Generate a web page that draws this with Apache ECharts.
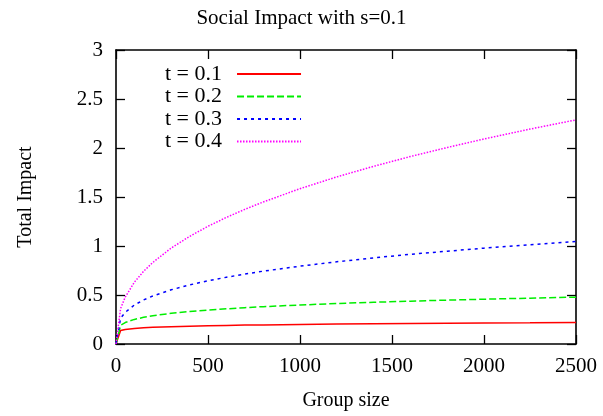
<!DOCTYPE html>
<html><head><meta charset="utf-8">
<script src="https://cdn.jsdelivr.net/npm/echarts@6/dist/echarts.min.js"></script>
<style>html,body{margin:0;padding:0;background:#fff}#c{width:603px;height:416px}</style>
</head><body><div id="c"></div>
<script>
const groupSize = [0, 25, 50, 100, 150, 200, 300, 400, 500, 600, 700, 800, 1000, 1200, 1400, 1600, 1800, 2000, 2250, 2500];
const impactT01 = [0, 0.138, 0.148, 0.158, 0.165, 0.170, 0.177, 0.182, 0.186, 0.190, 0.193, 0.195, 0.200, 0.203, 0.206, 0.209, 0.212, 0.214, 0.216, 0.219];
const impactT02 = [0, 0.190, 0.219, 0.251, 0.272, 0.289, 0.313, 0.331, 0.347, 0.359, 0.371, 0.381, 0.398, 0.413, 0.426, 0.437, 0.448, 0.457, 0.468, 0.478];
const impactT03 = [0, 0.263, 0.323, 0.398, 0.450, 0.490, 0.553, 0.603, 0.645, 0.681, 0.714, 0.743, 0.794, 0.839, 0.879, 0.915, 0.947, 0.978, 1.013, 1.046];
const impactT04 = [0, 0.362, 0.478, 0.631, 0.742, 0.832, 0.979, 1.098, 1.201, 1.292, 1.374, 1.449, 1.585, 1.705, 1.813, 1.913, 2.005, 2.092, 2.193, 2.287];
const seriesNames = ['t = 0.1', 't = 0.2', 't = 0.3', 't = 0.4'];
const xTicks = [0, 500, 1000, 1500, 2000, 2500];
const yTicks = [0, 0.5, 1, 1.5, 2, 2.5, 3];

const FONT = 'Liberation Serif';
const pair = arr => groupSize.map((x, i) => [x, arr[i]]);
const colors = ['#ff0000', '#00ee00', '#0000ff', '#ff00ff'];
const dashes = ['solid', [7, 3], [3, 4], [1.5, 1.5]];
const allData = [impactT01, impactT02, impactT03, impactT04];

const axisLineStyle = {show: true, onZero: false, lineStyle: {color: '#000', width: 1.6}};
const tickStyle = {show: true, inside: true, length: 9, lineStyle: {color: '#000', width: 1.3}};

const chart = echarts.init(document.getElementById('c'), null, {renderer: 'canvas'});
chart.setOption({
  animation: false,
  backgroundColor: '#fff',
  title: {
    text: 'Social Impact with s=0.1', left: 'center', top: 3,
    textStyle: {fontFamily: FONT, fontSize: 21, fontWeight: 'normal', color: '#000'}
  },
  grid: {left: 116, right: 27, top: 50, bottom: 72},
  legend: {
    orient: 'vertical', left: 160, top: 58, align: 'right',
    itemWidth: 64, itemHeight: 14, itemGap: 0.5,
    data: seriesNames,
    itemStyle: {opacity: 0},
    textStyle: {fontFamily: FONT, fontSize: 22, color: '#000', padding: [0, 10, 0, 0]}
  },
  xAxis: [{
    type: 'value', min: xTicks[0], max: xTicks[xTicks.length - 1], interval: 500,
    name: 'Group size', nameLocation: 'middle', nameGap: 47,
    nameTextStyle: {fontFamily: FONT, fontSize: 20, color: '#000'},
    axisLine: axisLineStyle, axisTick: tickStyle, splitLine: {show: false},
    axisLabel: {fontFamily: FONT, fontSize: 21, color: '#000', margin: 12, formatter: v => String(v)}
  }, {
    type: 'value', position: 'top', min: xTicks[0], max: xTicks[xTicks.length - 1], interval: 500,
    axisLine: axisLineStyle, axisTick: tickStyle, splitLine: {show: false}, axisLabel: {show: false}
  }],
  yAxis: [{
    type: 'value', min: yTicks[0], max: yTicks[yTicks.length - 1], interval: 0.5,
    name: 'Total Impact', nameLocation: 'middle', nameGap: 80,
    nameTextStyle: {fontFamily: FONT, fontSize: 20, color: '#000'},
    axisLine: axisLineStyle, axisTick: tickStyle, splitLine: {show: false},
    axisLabel: {fontFamily: FONT, fontSize: 21, color: '#000', margin: 13, formatter: v => String(v)}
  }, {
    type: 'value', position: 'right', min: yTicks[0], max: yTicks[yTicks.length - 1], interval: 0.5,
    axisLine: axisLineStyle, axisTick: tickStyle, splitLine: {show: false}, axisLabel: {show: false}
  }],
  series: allData.map((d, i) => ({
    name: seriesNames[i], type: 'line', data: pair(d), smooth: false,
    symbol: 'none', showSymbol: false, xAxisIndex: 0, yAxisIndex: 0,
    itemStyle: {color: colors[i]},
    lineStyle: {color: colors[i], width: 1.5, type: dashes[i]}
  }))
});
</script></body></html>
